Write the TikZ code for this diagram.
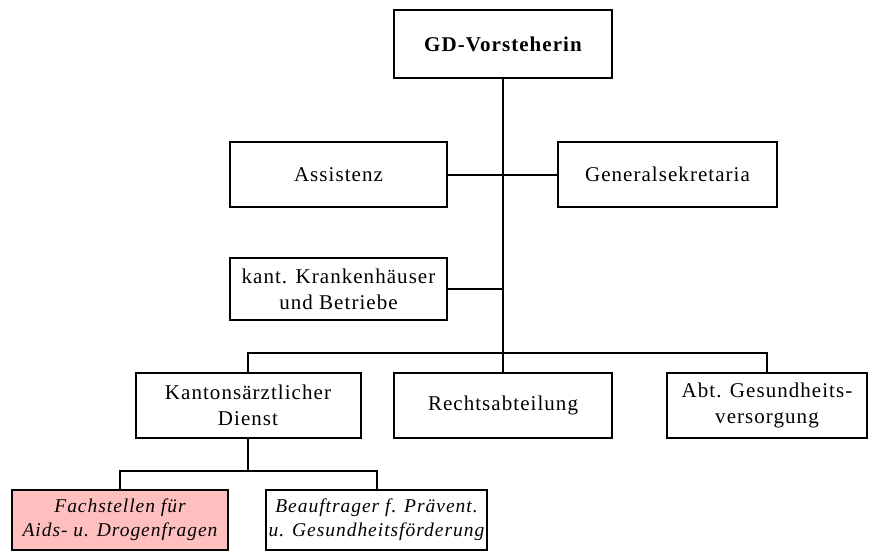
\documentclass[tikz,border=0pt]{standalone}
\usepackage{fontspec}
\setmainfont{Liberation Serif}[LetterSpace=5]
\usepackage{tikz}
\usetikzlibrary{positioning}
\definecolor{fachrot}{RGB}{255,191,191}

\begin{document}
\begin{tikzpicture}
[x=1pt,y=-1pt,line width=2pt,
box/.style = {draw, rectangle, align=center, inner sep=2pt, font=\fontsize{21}{26}\selectfont},
ibox/.style = {box, minimum width=218pt, minimum height=60pt, inner sep=0pt, font=\fontsize{19.5}{24}\selectfont\itshape},]
\useasboundingbox (0,0) rectangle (876,551);
\node (gd) at (503,44)[box,minimum width=218pt,minimum height=68pt,font=\fontsize{21}{26}\selectfont\bfseries] {GD-Vorsteherin};
\node (assist) at (338.5,174.5)[box,minimum width=217pt,minimum height=65pt] {Assistenz};
\node (gensek) at (667.5,174.5)[box,minimum width=219pt,minimum height=65pt] {Generalsekretaria};
\node (kkh) at (338.5,289)[box,minimum width=217pt,minimum height=62pt] {kant. Krankenh\"auser\\und Betriebe};
\node (kad) at (248,405.5)[box,minimum width=225pt,minimum height=65pt] {Kantons\"arztlicher\\Dienst};
\node (recht) at (503,405.5)[box,minimum width=218pt,minimum height=65pt] {Rechtsabteilung};
\node (abt) at (767,405.5)[box,minimum width=200pt,minimum height=65pt] {Abt. Gesundheits-\\versorgung};
\node (fach) at (120,520)[ibox,fill=fachrot,minimum width=216pt] {Fachstellen f\"ur\\Aids- u. Drogenfragen};
\node (beauf) at (376.5,520)[ibox,minimum width=221pt] {Beauftrager f. Pr\"avent.\\u. Gesundheitsf\"orderung};
\coordinate [above=19pt of recht.north] (bus);
\coordinate [below=32pt of kad.south] (busb);
\draw (gd)--(recht);
\draw (assist)--(gensek);
\draw (kkh.east)--(kkh.east -| gd);
\draw (kad.north) |- (bus) -| (abt.north);
\draw (kad.south)--(busb);
\draw (fach.north) |- (busb) -| (beauf.north);
\end{tikzpicture}
\end{document}
